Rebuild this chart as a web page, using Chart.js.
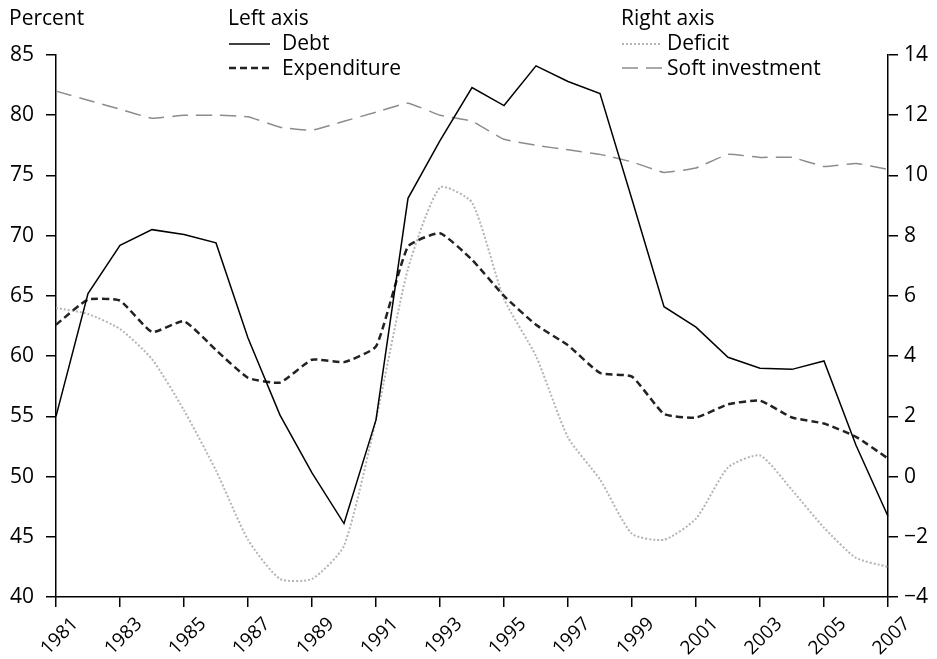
<!DOCTYPE html>
<html lang="en">
<head>
    <meta charset="UTF-8">
    <title>Debt, expenditure, deficit and soft investment</title>
    <script src="https://cdn.jsdelivr.net/npm/chart.js"></script>
    <style>
        body { margin: 0; background: #fff; font-family: "Open Sans", sans-serif; color: #000; }
        #wrap { position: relative; width: 937px; height: 659px; }
        #myChart { position: absolute; left: 0; top: 0; }
        .txt { position: absolute; font-size: 21px; line-height: 24px; white-space: nowrap; }
        .key { position: absolute; }
    </style>
</head>
<body>
<div id="wrap">
    <canvas id="myChart" width="937" height="659"></canvas>
    <div class="txt" style="left:9px; top:5px;">Percent</div>
    <div class="txt" style="left:228px; top:5px;">Left axis</div>
    <svg class="key" style="left:229px; top:38px;" width="44" height="12"><line x1="0" y1="6" x2="41" y2="6" stroke="#000" stroke-width="1.5"/></svg>
    <div class="txt" style="left:282px; top:30px;">Debt</div>
    <svg class="key" style="left:229px; top:62px;" width="44" height="12"><line x1="0" y1="6" x2="43" y2="6" stroke="#222" stroke-width="2.5" stroke-dasharray="7 4"/></svg>
    <div class="txt" style="left:282px; top:55px;">Expenditure</div>
    <div class="txt" style="left:621px; top:5px;">Right axis</div>
    <svg class="key" style="left:622px; top:38px;" width="44" height="12"><line x1="0" y1="6" x2="38" y2="6" stroke="#b4b4b4" stroke-width="2" stroke-dasharray="2 2"/></svg>
    <div class="txt" style="left:667px; top:30px;">Deficit</div>
    <svg class="key" style="left:622px; top:62px;" width="44" height="12"><line x1="0" y1="6" x2="40" y2="6" stroke="#8c8c8c" stroke-width="1.5" stroke-dasharray="16 8"/></svg>
    <div class="txt" style="left:667px; top:55px;">Soft investment</div>
</div>
<script>
    // years on the x axis
    const years = ['1981', '1982', '1983', '1984', '1985', '1986', '1987', '1988', '1989', '1990',
                   '1991', '1992', '1993', '1994', '1995', '1996', '1997', '1998', '1999', '2000',
                   '2001', '2002', '2003', '2004', '2005', '2006', '2007'];

    // left axis series
    const debt = [55.0, 65.2, 69.2, 70.5, 70.1, 69.4, 61.5, 55.1, 50.3, 46.1,
                  54.7, 73.1, 77.9, 82.3, 80.8, 84.1, 82.8, 81.8, 73.0, 64.1,
                  62.4, 59.9, 59.0, 58.9, 59.6, 52.6, 46.7];
    const expenditure = [62.6, 64.7, 64.6, 62.0, 62.9, 60.5, 58.2, 57.8, 59.7, 59.5,
                         60.8, 69.1, 70.2, 68.0, 65.0, 62.6, 60.9, 58.6, 58.3, 55.2,
                         54.9, 56.0, 56.3, 54.9, 54.4, 53.3, 51.5];

    // right axis series
    const deficit = [5.6, 5.4, 4.9, 3.9, 2.2, 0.2, -2.1, -3.4, -3.4, -2.3,
                     1.9, 6.9, 9.6, 9.1, 5.9, 4.0, 1.3, -0.1, -1.9, -2.1,
                     -1.4, 0.3, 0.7, -0.45, -1.7, -2.7, -3.0];
    const softInvestment = [12.8, 12.5, 12.2, 11.9, 12.0, 12.0, 11.95, 11.6, 11.5, 11.8,
                            12.1, 12.4, 12.0, 11.8, 11.2, 11.0, 10.85, 10.7, 10.45, 10.1,
                            10.25, 10.7, 10.6, 10.6, 10.3, 10.4, 10.2];

    const fontFamily = '"Open Sans", sans-serif';
    const axisGrid = { drawOnChartArea: false, drawTicks: true, tickLength: 10, color: '#000', lineWidth: 1.5 };
    const axisBorder = { display: true, color: '#000', width: 1.5 };

    const ctx = document.getElementById('myChart').getContext('2d');
    const myChart = new Chart(ctx, {
        type: 'line',
        data: {
            labels: years,
            datasets: [
                { label: 'Debt', data: debt, yAxisID: 'yL', borderColor: '#000', borderWidth: 1.5, tension: 0 },
                { label: 'Expenditure', data: expenditure, yAxisID: 'yL', borderColor: '#222', borderWidth: 2.5, borderDash: [7, 4], tension: 0.15 },
                { label: 'Deficit', data: deficit, yAxisID: 'yR', borderColor: '#b4b4b4', borderWidth: 2, borderDash: [2, 2], tension: 0.2 },
                { label: 'Soft investment', data: softInvestment, yAxisID: 'yR', borderColor: '#8c8c8c', borderWidth: 1.5, borderDash: [16, 8], tension: 0.1 }
            ]
        },
        options: {
            responsive: false,
            animation: false,
            layout: { padding: { top: 55, left: 0, right: 0, bottom: 0 } },
            elements: { point: { radius: 0 } },
            plugins: { legend: { display: false }, tooltip: { enabled: false } },
            scales: {
                x: {
                    type: 'category',
                    offset: false,
                    grid: axisGrid,
                    border: axisBorder,
                    ticks: {
                        autoSkip: false,
                        minRotation: 45,
                        maxRotation: 45,
                        padding: 6,
                        labelOffset: 19,
                        color: '#000',
                        font: { family: fontFamily, size: 19 },
                        callback: function (val, i) {
                            const y = years[i];
                            return (parseInt(y) % 2 === 1) ? y : null;
                        }
                    },
                    afterFit: function (scale) { scale.height = 62; }
                },
                yL: {
                    position: 'left',
                    min: 40,
                    max: 85,
                    grid: axisGrid,
                    border: axisBorder,
                    ticks: { stepSize: 5, color: '#000', padding: 12, font: { family: fontFamily, size: 21 } },
                    afterFit: function (scale) { scale.width = 56; }
                },
                yR: {
                    position: 'right',
                    min: -4,
                    max: 14,
                    grid: axisGrid,
                    border: axisBorder,
                    ticks: {
                        stepSize: 2, color: '#000', padding: 6, font: { family: fontFamily, size: 21 },
                        callback: function (v) { return String(v).replace('-', '\u2212'); }
                    },
                    afterFit: function (scale) { scale.width = 49; }
                }
            }
        }
    });
</script>
</body>
</html>
